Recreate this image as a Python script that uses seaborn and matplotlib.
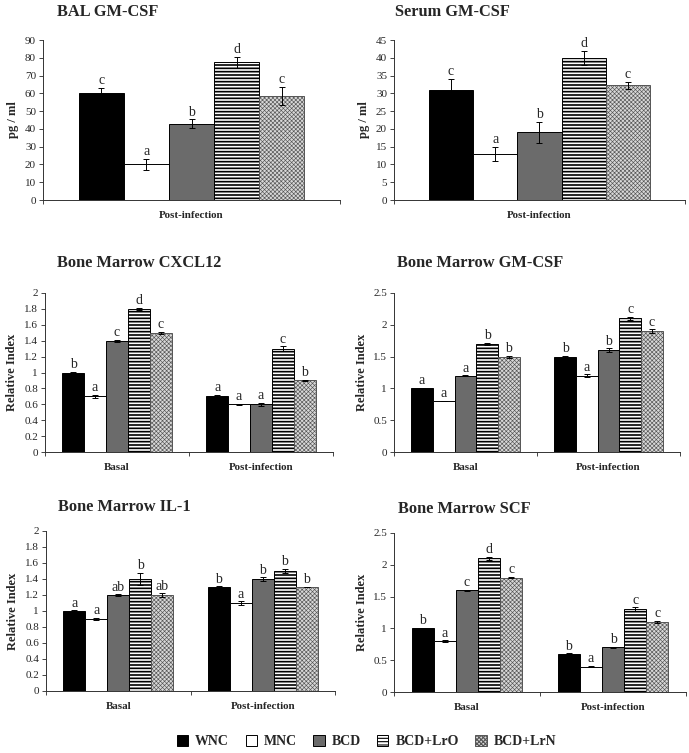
import numpy as np
import pandas as pd
import matplotlib
matplotlib.use('Agg')
import matplotlib.pyplot as plt
import seaborn as sns

groups = ['WNC', 'MNC', 'BCD', 'BCD+LrO', 'BCD+LrN']

# BAL GM-CSF (post-infection only)
bal_mean = [60, 20, 43, 77.5, 58.5]
bal_err = [3, 3, 2.3, 3, 5]
bal_sig = ['c', 'a', 'b', 'd', 'c']

# Serum GM-CSF (post-infection only)
serum_mean = [31, 13, 19, 40, 32.3]
serum_err = [3, 2, 3, 2, 1]
serum_sig = ['c', 'a', 'b', 'd', 'c']

# Bone marrow CXCL12
cxcl_basal = [1.0, 0.7, 1.4, 1.8, 1.5]
cxcl_basal_err = [0.01, 0.02, 0.015, 0.01, 0.015]
cxcl_basal_sig = ['b', 'a', 'c', 'd', 'c']
cxcl_post = [0.7, 0.6, 0.6, 1.3, 0.9]
cxcl_post_err = [0.015, 0.01, 0.02, 0.03, 0.01]
cxcl_post_sig = ['a', 'a', 'a', 'c', 'b']

# Bone marrow GM-CSF
bmgm_basal = [1.0, 0.8, 1.2, 1.7, 1.5]
bmgm_basal_err = [0.01, 0.005, 0.005, 0.02, 0.015]
bmgm_basal_sig = ['a', 'a', 'a', 'b', 'b']
bmgm_post = [1.5, 1.2, 1.6, 2.1, 1.9]
bmgm_post_err = [0.015, 0.02, 0.03, 0.02, 0.03]
bmgm_post_sig = ['b', 'a', 'b', 'c', 'c']

# Bone marrow IL-1
il1_basal = [1.0, 0.9, 1.2, 1.4, 1.2]
il1_basal_err = [0.01, 0.015, 0.01, 0.075, 0.02]
il1_basal_sig = ['a', 'a', 'ab', 'b', 'ab']
il1_post = [1.3, 1.1, 1.4, 1.5, 1.3]
il1_post_err = [0.01, 0.02, 0.02, 0.03, 0.005]
il1_post_sig = ['b', 'a', 'b', 'b', 'b']

# Bone marrow SCF
scf_basal = [1.0, 0.8, 1.6, 2.1, 1.8]
scf_basal_err = [0.01, 0.01, 0.005, 0.02, 0.015]
scf_basal_sig = ['b', 'a', 'c', 'd', 'c']
scf_post = [0.6, 0.4, 0.7, 1.3, 1.1]
scf_post_err = [0.01, 0.01, 0.01, 0.03, 0.02]
scf_post_sig = ['b', 'a', 'b', 'c', 'c']

colors = ['black', 'white', '#6b6b6b', 'white', '#d8d8d8']
hatches = [None, None, None, '-----', 'xxxxxxxx']
hatch_edge = ['black', 'black', 'black', 'black', '#555555']
hatch_lw = [1.0, 1.0, 1.0, 1.2, 0.45]

sns.set_style('ticks')
plt.rcParams['font.family'] = ['Liberation Serif', 'DejaVu Serif']
plt.rcParams['hatch.linewidth'] = 0.8


def make_df(phases, means, errs, sigs):
    rows = []
    for p, m, e, s in zip(phases, means, errs, sigs):
        for g, v, er, sg in zip(groups, m, e, s):
            rows.append({'phase': p, 'group': g, 'value': v, 'err': er, 'sig': sg})
    return pd.DataFrame(rows)


def draw_panel(ax, df, phases, ymax, ystep, ylabel, fmt):
    sns.barplot(data=df, x='phase', y='value', hue='group', order=phases,
                hue_order=groups, palette=colors, saturation=1, width=0.76,
                errorbar=None, legend=False, edgecolor='black', linewidth=0.7,
                ax=ax)
    bars = list(ax.containers)
    for i, cont in enumerate(bars):
        for j, patch in enumerate(cont.patches):
            if hatches[i]:
                patch.set_hatch(hatches[i])
                patch.set_edgecolor(hatch_edge[i])
                if hasattr(patch, 'set_hatch_linewidth'):
                    patch.set_hatch_linewidth(hatch_lw[i])
            row = df[(df['group'] == groups[i]) & (df['phase'] == phases[j])].iloc[0]
            xc = patch.get_x() + patch.get_width() / 2
            top = patch.get_height()
            ax.errorbar(xc, top, yerr=row['err'], color='black', lw=0.7,
                        capsize=2.5, capthick=0.7, zorder=5)
            ax.annotate(row['sig'], (xc, top + row['err']), xytext=(0, 0.5),
                        textcoords='offset points', ha='center', va='bottom',
                        fontsize=10)
    n = len(phases)
    ax.set_xlim(-0.5, n - 0.5)
    ax.set_ylim(0, ymax)
    ticks = np.arange(0, ymax + ystep / 2, ystep)
    ax.set_yticks(ticks)
    ax.set_yticklabels([fmt(t) for t in ticks], fontsize=8)
    ax.set_xticks(range(n))
    ax.set_xticklabels(phases, fontsize=7.9, fontweight='bold')
    ax.set_xticks(np.arange(-0.5, n, 1.0), minor=True)
    ax.tick_params(axis='x', which='major', length=0, pad=8)
    ax.tick_params(axis='x', which='minor', length=3, width=0.6, direction='out')
    ax.tick_params(axis='y', length=3, width=0.6, direction='out', pad=2)
    ax.set_xlabel('')
    ax.set_ylabel(ylabel, fontsize=9, fontweight='bold', labelpad=4)
    for s in ['top', 'right']:
        ax.spines[s].set_visible(False)
    for s in ['left', 'bottom']:
        ax.spines[s].set_linewidth(0.7)
        ax.spines[s].set_color('#333333')
    return bars


def fmt_int(t):
    return '%d' % round(t)


def fmt_g(t):
    return ('%.1f' % t).rstrip('0').rstrip('.')


W, H = 689, 753
fig = plt.figure(figsize=(W / 100, H / 100), dpi=100)


def add_ax(l, r, t, b):
    return fig.add_axes([l / W, 1 - b / H, (r - l) / W, (b - t) / H])


panels = [
    (add_ax(43, 340, 40, 200), 'BAL GM-CSF', (57, 4),
     make_df(['Post-infection'], [bal_mean], [bal_err], [bal_sig]),
     ['Post-infection'], 90, 10, 'pg / ml', fmt_int),
    (add_ax(394, 685, 40, 200), 'Serum GM-CSF', (395, 4),
     make_df(['Post-infection'], [serum_mean], [serum_err], [serum_sig]),
     ['Post-infection'], 45, 5, 'pg / ml', fmt_int),
    (add_ax(45, 333, 293, 452), 'Bone Marrow CXCL12', (57, 255),
     make_df(['Basal', 'Post-infection'], [cxcl_basal, cxcl_post],
             [cxcl_basal_err, cxcl_post_err], [cxcl_basal_sig, cxcl_post_sig]),
     ['Basal', 'Post-infection'], 2, 0.2, 'Relative Index', fmt_g),
    (add_ax(394, 680, 293, 452), 'Bone Marrow GM-CSF', (397, 255),
     make_df(['Basal', 'Post-infection'], [bmgm_basal, bmgm_post],
             [bmgm_basal_err, bmgm_post_err], [bmgm_basal_sig, bmgm_post_sig]),
     ['Basal', 'Post-infection'], 2.5, 0.5, 'Relative Index', fmt_g),
    (add_ax(46, 335, 531, 691), 'Bone Marrow IL-1', (58, 499),
     make_df(['Basal', 'Post-infection'], [il1_basal, il1_post],
             [il1_basal_err, il1_post_err], [il1_basal_sig, il1_post_sig]),
     ['Basal', 'Post-infection'], 2, 0.2, 'Relative Index', fmt_g),
    (add_ax(394, 686, 533, 692), 'Bone Marrow SCF', (398, 501),
     make_df(['Basal', 'Post-infection'], [scf_basal, scf_post],
             [scf_basal_err, scf_post_err], [scf_basal_sig, scf_post_sig]),
     ['Basal', 'Post-infection'], 2.5, 0.5, 'Relative Index', fmt_g),
]

legend_bars = None
for ax, title, (tx, ty), df, phases, ymax, ystep, ylabel, fmt in panels:
    bars = draw_panel(ax, df, phases, ymax, ystep, ylabel, fmt)
    if legend_bars is None:
        legend_bars = bars
    fig.text(tx / W, 1 - ty / H, title, fontsize=11.8, fontweight='bold',
             ha='left', va='top')

handles = [c.patches[0] for c in legend_bars]
fig.legend(handles, groups, loc='center', bbox_to_anchor=(0.532, 0.015),
           ncol=5, frameon=False, handlelength=0.8, handleheight=0.8,
           handletextpad=0.5, columnspacing=1.2,
           prop={'size': 10, 'weight': 'bold'})

fig.savefig('out.png', dpi=100)
